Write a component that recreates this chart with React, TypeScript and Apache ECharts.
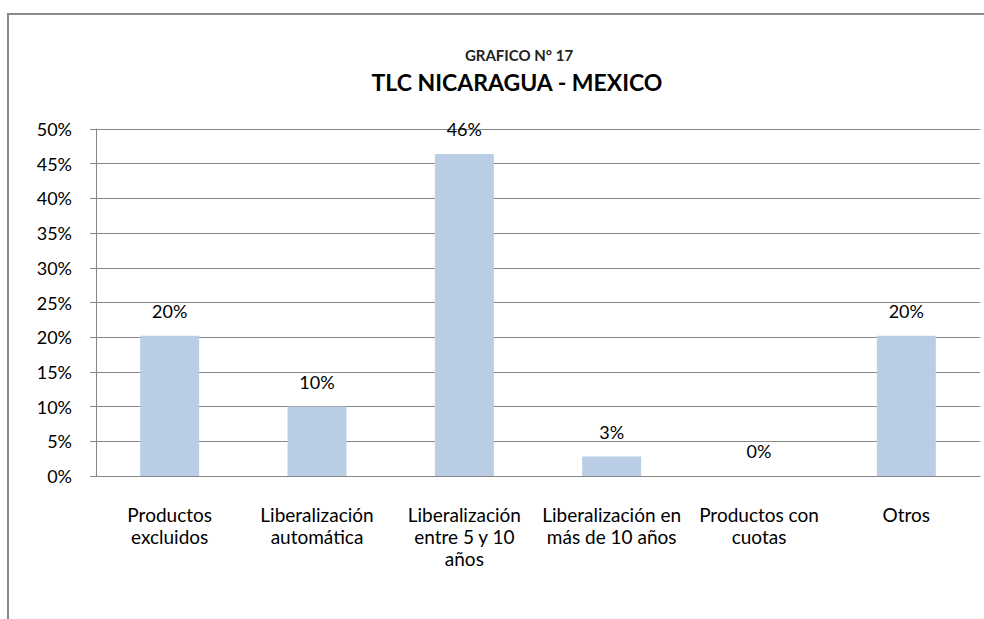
import React, { useEffect, useRef } from "react";
import * as echarts from "echarts";

const categories = [
  "Productos\nexcluidos",
  "Liberalización\nautomática",
  "Liberalización\nentre 5 y 10\naños",
  "Liberalización en\nmás de 10 años",
  "Productos con\ncuotas",
  "Otros",
];
const values = [0.202, 0.1, 0.464, 0.028, 0, 0.202];
const yTicks = [0, 0.05, 0.1, 0.15, 0.2, 0.25, 0.3, 0.35, 0.4, 0.45, 0.5];
const subtitle = "GRAFICO N° 17";
const title = "TLC NICARAGUA - MEXICO";

const FONT = "Lato, 'Open Sans', sans-serif";

export default function App() {
  const ref = useRef<HTMLDivElement>(null);
  useEffect(() => {
    if (!ref.current) return;
    const chart = echarts.init(ref.current, null, { renderer: "svg" });
    chart.setOption({
      animation: false,
      backgroundColor: "#ffffff",
      textStyle: { fontFamily: FONT },
      title: [
        {
          text: subtitle,
          left: 514,
          top: 42,
          textAlign: "center",
          textStyle: { fontFamily: FONT, fontSize: 15, fontWeight: "bold", color: "#222" },
        },
        {
          text: title,
          left: 512,
          top: 65,
          textAlign: "center",
          textStyle: { fontFamily: FONT, fontSize: 23, fontWeight: "bold", color: "#000" },
        },
      ],
      graphic: [
        {
          type: "polyline",
          shape: { points: [[8, 619], [8, 14], [984, 14]] },
          style: { stroke: "#8a8a8a", lineWidth: 2, fill: null },
          silent: true,
        },
      ],
      grid: { left: 96, right: 4, top: 129, bottom: 143, containLabel: false },
      xAxis: {
        type: "category",
        data: categories,
        axisLine: { show: true, lineStyle: { color: "#868686", width: 1 } },
        axisTick: { show: false },
        axisLabel: {
          interval: 0,
          margin: 27,
          fontFamily: FONT,
          fontSize: 19,
          lineHeight: 22,
          color: "#000",
        },
      },
      yAxis: {
        type: "value",
        min: 0,
        max: 0.5,
        interval: 0.05,
        axisLine: { show: true, lineStyle: { color: "#868686", width: 1 } },
        axisTick: { show: true, length: 6, lineStyle: { color: "#868686" } },
        splitLine: { show: true, lineStyle: { color: "#868686", width: 1 } },
        axisLabel: {
          margin: 24,
          fontFamily: FONT,
          fontSize: 18,
          color: "#000",
          formatter: (v: number) => {
            const t = yTicks.find((x) => Math.abs(x - v) < 1e-9);
            return Math.round((t ?? v) * 100) + "%";
          },
        },
      },
      series: [
        {
          type: "bar",
          data: values,
          barWidth: "40%",
          itemStyle: { color: "#B9CDE5" },
          label: {
            show: true,
            position: "top",
            distance: 16,
            fontFamily: FONT,
            fontSize: 18,
            color: "#000",
            formatter: (p: any) => Math.round(p.value * 100) + "%",
          },
        },
      ],
    });
    return () => chart.dispose();
  }, []);
  return (
    <div
      ref={ref}
      style={{ position: "absolute", left: 0, top: 0, width: 984, height: 619 }}
    />
  );
}
